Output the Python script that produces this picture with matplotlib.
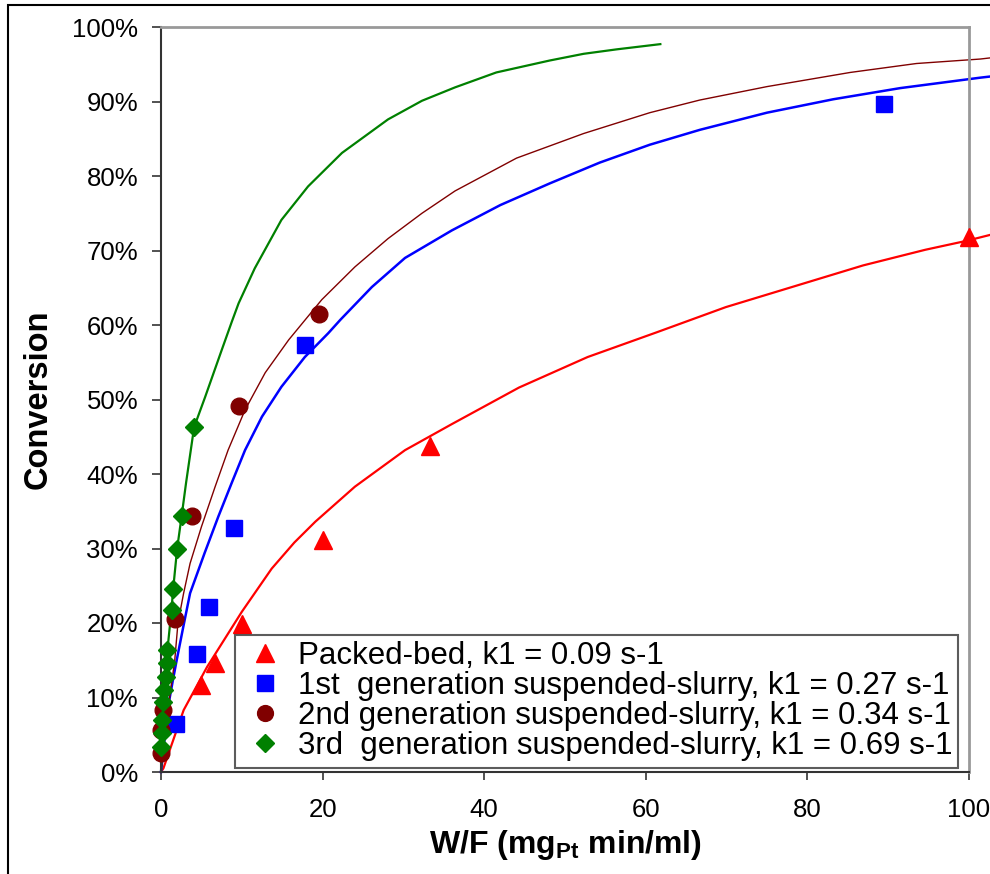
import matplotlib
matplotlib.use('Agg')
from matplotlib import pyplot as plt
from matplotlib.patches import Rectangle
from matplotlib.ticker import PercentFormatter

# measured points (W/F, conversion %)
pb_x = [5.0, 6.7, 10.0, 20.1, 33.3, 100.0]
pb_y = [11.7, 14.6, 19.9, 31.1, 43.7, 71.8]

g1_x = [1.9, 4.4, 5.9, 9.0, 17.8, 89.5]
g1_y = [6.5, 15.8, 22.2, 32.7, 57.3, 89.7]

g2_x = [0.0, 0.05, 0.3, 1.7, 3.8, 9.7, 19.5]
g2_y = [2.5, 5.6, 8.3, 20.6, 34.4, 49.1, 61.5]

g3_x = [0.0, 0.1, 0.1, 0.3, 0.4, 0.6, 0.7, 0.8, 1.3, 1.5, 2.0, 2.6, 4.1]
g3_y = [3.4, 5.2, 7.0, 9.4, 11.0, 12.8, 14.6, 16.4, 21.8, 24.5, 30.0, 34.4, 46.3]

# fitted curves
fit_pb_x = [0, 0.3, 2.8, 5.7, 10.0, 13.7, 16.5, 19.1, 24.0, 30.2, 36.0, 44.3, 52.8, 61.3,
            69.9, 78.4, 86.9, 94.6, 99.7, 103]
fit_pb_y = [0, 0.5, 8.3, 14.1, 21.5, 27.3, 30.8, 33.6, 38.3, 43.2, 46.7, 51.6, 55.7, 59.0,
            62.4, 65.2, 68.0, 70.1, 71.3, 72.2]

fit_g1_x = [0, 0.5, 1.0, 1.5, 1.94, 2.76, 3.6, 5.4, 7.1, 8.75, 10.4, 12.5, 14.9, 17.8,
            20.7, 22.2, 26.1, 30.2, 36.0, 42.0, 48.1, 54.3, 60.5, 66.7, 75.0, 83.2,
            91.5, 101.4, 103]
fit_g1_y = [0, 5.0, 9.5, 12.5, 15.0, 19.5, 24.0, 29.4, 34.3, 38.8, 43.2, 47.7, 51.7, 55.7,
            58.9, 60.7, 65.1, 69.0, 72.7, 76.1, 79.0, 81.8, 84.2, 86.2, 88.5, 90.3,
            91.8, 93.2, 93.4]

fit_g2_x = [0, 0.5, 1.0, 1.7, 2.1, 2.8, 3.6, 5.0, 6.7, 8.3, 10.4, 12.9, 15.8, 19.9, 24.0,
            28.1, 32.3, 36.4, 44.0, 52.3, 60.5, 66.7, 75.0, 85.3, 93.5, 101.4, 103]
fit_g2_y = [0, 5.0, 9.5, 15.0, 20.0, 24.0, 28.0, 32.9, 38.3, 43.2, 48.6, 53.6, 58.0, 63.4,
            67.8, 71.6, 75.0, 78.0, 82.4, 85.7, 88.5, 90.2, 92.0, 93.9, 95.1, 95.7, 95.9]

fit_g3_x = [0, 0.1, 0.3, 0.6, 0.8, 1.3, 1.5, 2.0, 2.56, 3.1, 4.1, 5.45, 7.5, 8.75, 9.6,
            11.6, 14.9, 18.2, 22.4, 28.1, 32.3, 36.4, 41.5, 48.1, 52.3, 56.4, 61.8]
fit_g3_y = [0, 3.4, 9.4, 12.8, 16.4, 21.8, 24.5, 30.0, 34.4, 38.8, 46.3, 50.3, 56.6, 60.4,
            62.9, 67.6, 74.1, 78.6, 83.1, 87.6, 90.1, 91.9, 93.9, 95.5, 96.4, 97.0, 97.7]

labels = ['Packed-bed, k1 = 0.09 s-1',
          '1st  generation suspended-slurry, k1 = 0.27 s-1',
          '2nd generation suspended-slurry, k1 = 0.34 s-1',
          '3rd  generation suspended-slurry, k1 = 0.69 s-1']

plt.rcParams['font.family'] = 'Liberation Sans'
plt.rcParams['mathtext.fontset'] = 'custom'
plt.rcParams['mathtext.rm'] = 'Liberation Sans:bold'
plt.rcParams['mathtext.bf'] = 'Liberation Sans:bold'

fig = plt.figure(figsize=(9.9, 8.74), dpi=100)
ax = fig.add_axes([161 / 990, 1 - 772 / 874, 808 / 990, 745 / 874])

def pct(v):
    return [a / 100 for a in v]

# curves
ax.plot(fit_pb_x, pct(fit_pb_y), color='#FF0000', lw=1.6, clip_on=False, zorder=2)
ax.plot(fit_g1_x, pct(fit_g1_y), color='#0000FF', lw=1.8, clip_on=False, zorder=2)
ax.plot(fit_g2_x, pct(fit_g2_y), color='#800000', lw=1.0, clip_on=False, zorder=2)
ax.plot(fit_g3_x, pct(fit_g3_y), color='#008000', lw=1.6, clip_on=False, zorder=2)

# data points
ax.plot(pb_x, pct(pb_y), ls='none', marker='^', ms=13, color='#FF0000',
        clip_on=False, zorder=3, label=labels[0])
ax.plot(g1_x, pct(g1_y), ls='none', marker='s', ms=11.5, color='#0000FF',
        clip_on=False, zorder=3, label=labels[1])
ax.plot(g2_x, pct(g2_y), ls='none', marker='o', ms=12, color='#800000',
        clip_on=False, zorder=3, label=labels[2])
ax.plot(g3_x, pct(g3_y), ls='none', marker='D', ms=9.5, color='#008000',
        clip_on=False, zorder=4, label=labels[3])

ax.set_xlim(0, 100)
ax.set_ylim(0, 1)
ax.set_xticks(range(0, 101, 20))
ax.set_yticks([i / 10 for i in range(11)])
ax.yaxis.set_major_formatter(PercentFormatter(1.0, decimals=0))

for s in ['top', 'right']:
    ax.spines[s].set_color('#999999')
    ax.spines[s].set_linewidth(2)
for s in ['left', 'bottom']:
    ax.spines[s].set_color('#333333')
    ax.spines[s].set_linewidth(1.5)

ax.tick_params(axis='y', direction='out', length=6.5, width=1.2, color='#333333',
               pad=10, labelsize=18.5)
ax.tick_params(axis='x', direction='out', length=6, width=1.2, color='#333333',
               pad=13, labelsize=18.5)

ax.set_ylabel('Conversion', fontsize=23.5, fontweight='bold', labelpad=13)
ax.set_xlabel(r'W/F (mg$_{\mathbf{Pt}}$ min/ml)', fontsize=23, fontweight='bold',
              labelpad=4)

leg = ax.legend(loc='lower left', bbox_to_anchor=(0.0916, 0.006), borderaxespad=0,
                frameon=True, fancybox=False, edgecolor='#333333',
                prop={'size': 22.5}, handlelength=1.5,
                handletextpad=0.3, borderpad=0.2, labelspacing=0.0,
                markerscale=0.95)
leg.get_frame().set_linewidth(1.5)
leg.set_zorder(10)

# outer chart frame
fig.patches.append(Rectangle((8 / 990, -0.1), 1.2, 1.1 - 5 / 874, transform=fig.transFigure,
                             fill=False, edgecolor='black', lw=1.5))

fig.savefig('out.png', dpi=100)
